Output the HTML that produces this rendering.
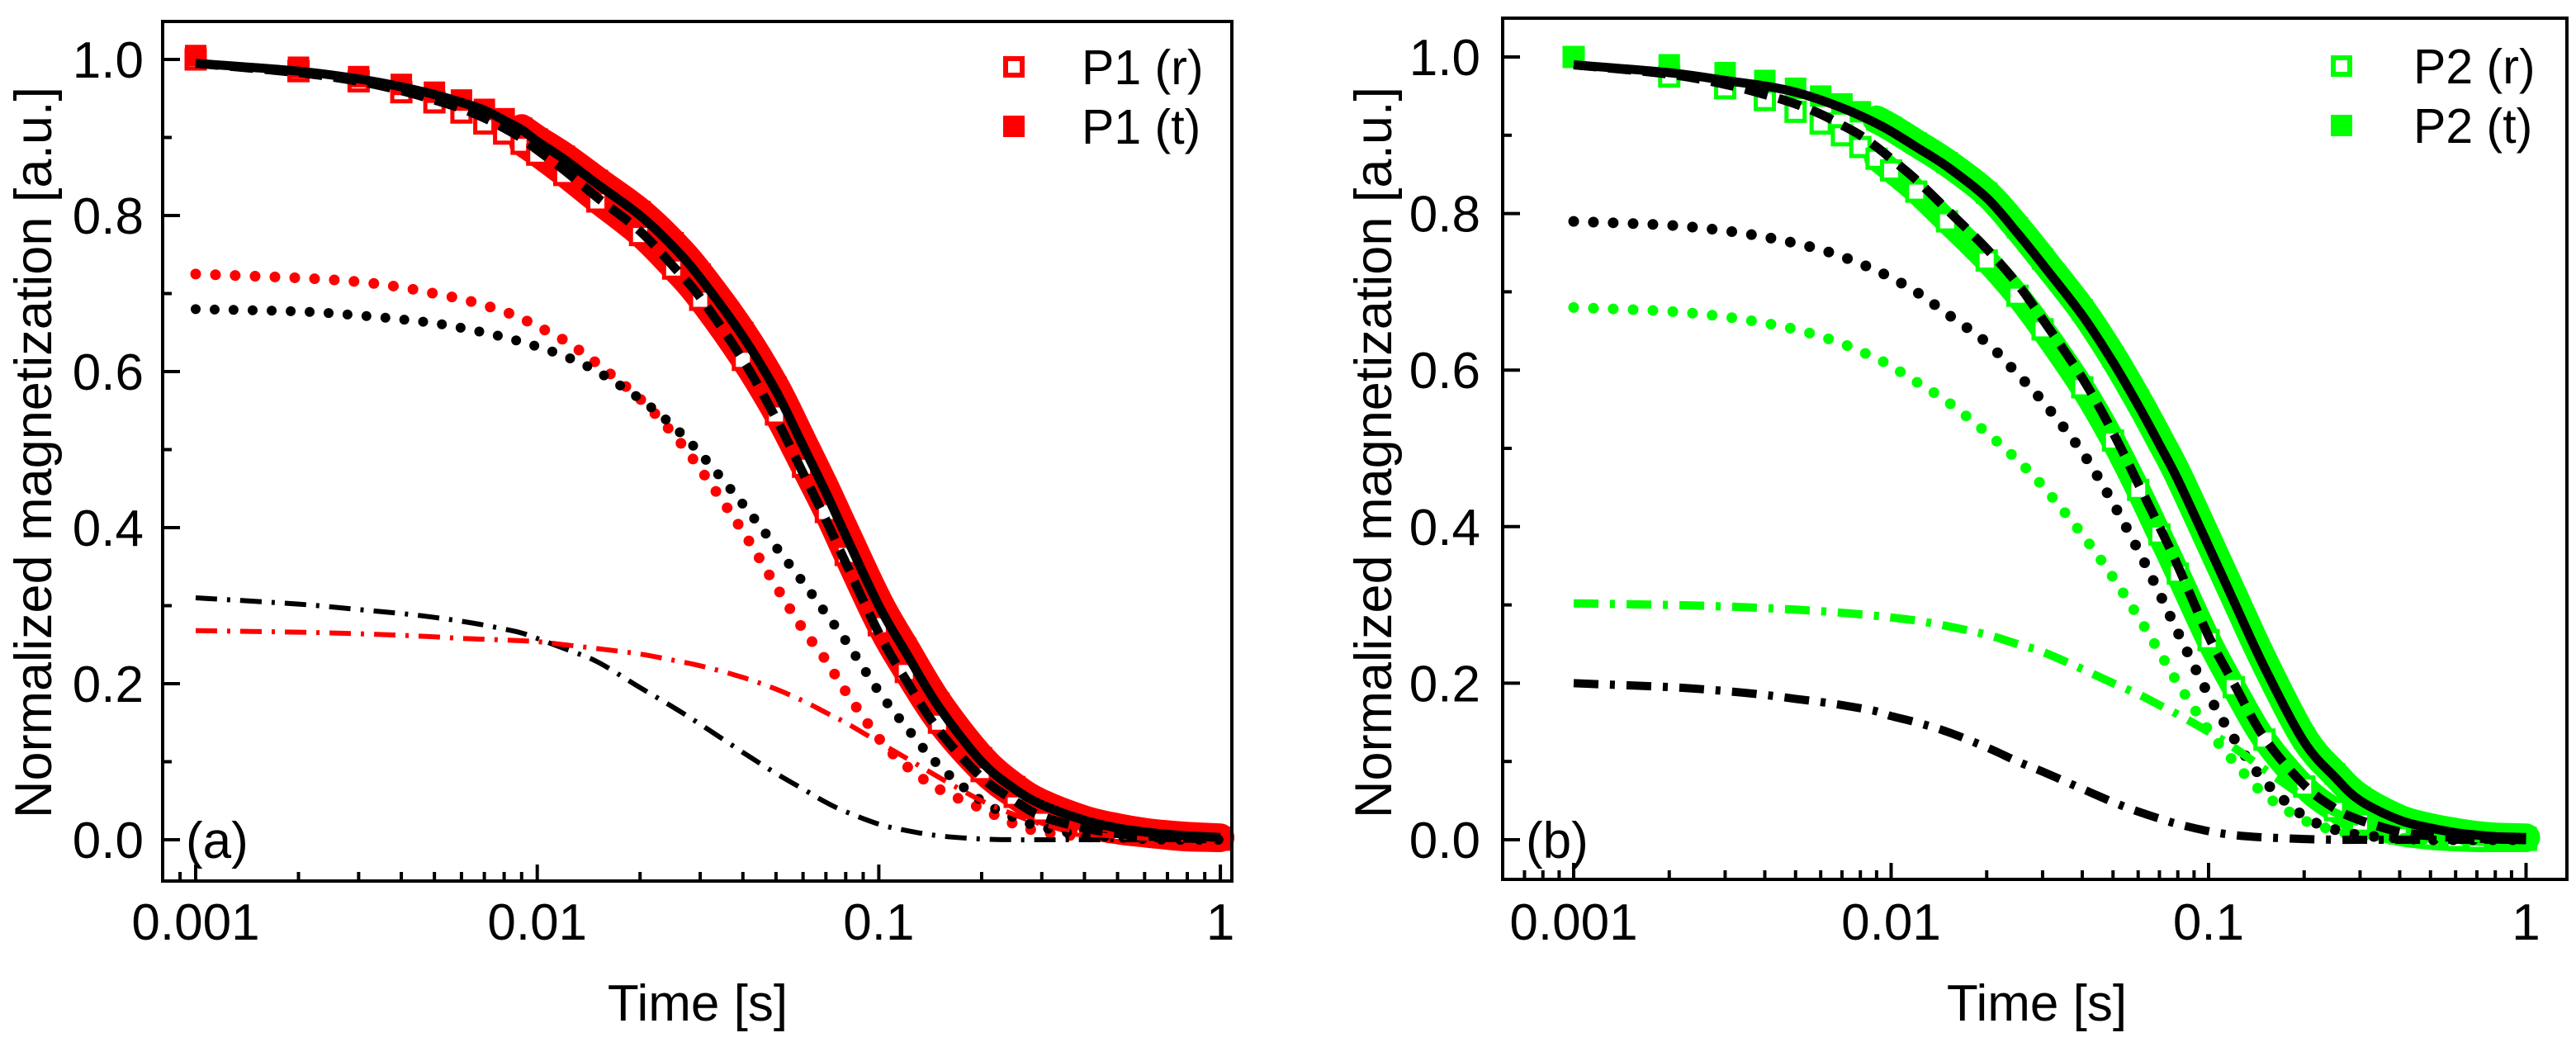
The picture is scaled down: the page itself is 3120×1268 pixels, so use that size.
<!DOCTYPE html>
<html><head><meta charset="utf-8">
<style>
html,body{margin:0;padding:0;background:#fff;}
svg{display:block;font-family:"Liberation Sans",Arial,sans-serif;}
</style></head>
<body>
<svg id="chart" width="3120" height="1268" viewBox="0 0 3120 1268" xmlns="http://www.w3.org/2000/svg"></svg>
<script>
// ---------- shared data ----------
const xTicks = [0.001, 0.01, 0.1, 1];
const xTickLabels = ["0.001", "0.01", "0.1", "1"];
const yTicks = [0.0, 0.2, 0.4, 0.6, 0.8, 1.0];
const yTickLabels = ["0.0", "0.2", "0.4", "0.6", "0.8", "1.0"];
const times = [0.001,0.002,0.003,0.004,0.005,0.006,0.007,0.008,0.009,0.01,0.012,0.015,0.02,0.025,0.03,0.04,0.05,0.06,0.07,0.08,0.1,0.12,0.15,0.2,0.25,0.3,0.4,0.5,0.6,0.7,0.8,1.0];

// ---------- panel (a) ----------
const aTotalFit  = [0.995,0.985,0.975,0.965,0.955,0.945,0.935,0.922,0.91,0.895,0.872,0.84,0.80,0.76,0.72,0.645,0.575,0.505,0.445,0.39,0.30,0.24,0.17,0.10,0.065,0.045,0.025,0.015,0.01,0.007,0.005,0.003];
const aDashFit   = [0.995,0.983,0.972,0.96,0.948,0.937,0.925,0.912,0.899,0.884,0.858,0.823,0.78,0.735,0.695,0.615,0.54,0.47,0.41,0.355,0.265,0.205,0.14,0.08,0.05,0.03,0.015,0.008,0.005,0.003,0.002,0.001];
const aDataR     = [1.00,0.985,0.972,0.958,0.945,0.932,0.918,0.905,0.892,0.878,0.852,0.818,0.775,0.732,0.692,0.615,0.545,0.478,0.42,0.365,0.275,0.215,0.15,0.088,0.055,0.035,0.018,0.01,0.006,0.003,0.001,0.0];
const aDataT     = [1.005,0.99,0.978,0.968,0.958,0.948,0.936,0.924,0.912,0.898,0.876,0.845,0.805,0.765,0.725,0.65,0.58,0.51,0.45,0.395,0.305,0.245,0.175,0.105,0.068,0.047,0.026,0.016,0.01,0.007,0.005,0.003];
const aRedDot    = [0.725,0.72,0.715,0.708,0.70,0.693,0.685,0.677,0.668,0.658,0.64,0.61,0.565,0.52,0.475,0.395,0.325,0.27,0.23,0.19,0.13,0.095,0.065,0.04,0.02,0.01,0.004,0.002,0.001,0.0,0.0,0.0];
const aBlackDot  = [0.68,0.677,0.672,0.667,0.662,0.656,0.65,0.644,0.638,0.632,0.62,0.60,0.565,0.53,0.495,0.43,0.375,0.33,0.29,0.255,0.19,0.145,0.095,0.05,0.028,0.016,0.006,0.003,0.001,0.0,0.0,0.0];
const aBlackDD   = [0.31,0.302,0.295,0.29,0.285,0.28,0.275,0.27,0.265,0.258,0.245,0.228,0.195,0.17,0.148,0.112,0.085,0.065,0.048,0.036,0.02,0.012,0.005,0.001,0.0,0.0,0.0,0.0,0.0,0.0,0.0,0.0];
const aRedDD     = [0.268,0.266,0.264,0.262,0.26,0.258,0.257,0.256,0.255,0.254,0.25,0.245,0.238,0.23,0.223,0.208,0.193,0.178,0.163,0.15,0.125,0.105,0.08,0.05,0.032,0.02,0.009,0.004,0.002,0.001,0.0,0.0];

// ---------- panel (b) ----------
const bTotalFit  = [0.99,0.98,0.97,0.963,0.955,0.945,0.935,0.925,0.915,0.905,0.885,0.86,0.82,0.775,0.735,0.67,0.61,0.555,0.505,0.46,0.375,0.305,0.22,0.125,0.08,0.05,0.025,0.015,0.009,0.006,0.004,0.003];
const bDashFit   = [0.99,0.978,0.965,0.952,0.94,0.927,0.913,0.9,0.885,0.87,0.843,0.805,0.755,0.71,0.665,0.59,0.52,0.455,0.40,0.35,0.26,0.2,0.13,0.07,0.04,0.025,0.01,0.005,0.003,0.002,0.001,0.0];
const bDataR     = [1.00,0.975,0.96,0.945,0.93,0.915,0.9,0.885,0.87,0.855,0.828,0.79,0.74,0.695,0.652,0.578,0.51,0.447,0.39,0.34,0.255,0.195,0.128,0.068,0.038,0.022,0.008,0.003,0.001,0.0,0.0,0.0];
const bDataT     = [1.00,0.99,0.98,0.97,0.96,0.95,0.94,0.93,0.92,0.91,0.89,0.865,0.826,0.782,0.742,0.677,0.617,0.562,0.512,0.467,0.382,0.312,0.227,0.13,0.084,0.054,0.027,0.016,0.01,0.006,0.004,0.003];
const bBlackDot  = [0.79,0.785,0.778,0.77,0.762,0.754,0.745,0.736,0.727,0.718,0.70,0.672,0.635,0.595,0.56,0.495,0.43,0.37,0.315,0.265,0.185,0.13,0.075,0.03,0.013,0.006,0.002,0.0,0.0,0.0,0.0,0.0];
const bGreenDot  = [0.68,0.675,0.668,0.66,0.652,0.643,0.634,0.624,0.615,0.605,0.585,0.56,0.52,0.485,0.452,0.39,0.335,0.285,0.24,0.2,0.14,0.1,0.058,0.025,0.012,0.005,0.002,0.0,0.0,0.0,0.0,0.0];
const bGreenDD   = [0.302,0.3,0.298,0.296,0.294,0.292,0.29,0.288,0.286,0.284,0.28,0.273,0.262,0.25,0.24,0.218,0.2,0.186,0.172,0.16,0.138,0.118,0.09,0.055,0.035,0.022,0.01,0.005,0.003,0.002,0.001,0.0];
const bBlackDD   = [0.20,0.195,0.19,0.185,0.18,0.176,0.172,0.168,0.164,0.158,0.15,0.138,0.118,0.1,0.087,0.065,0.048,0.036,0.027,0.02,0.011,0.006,0.003,0.001,0.0,0.0,0.0,0.0,0.0,0.0,0.0,0.0];

// ---------- drawing ----------
const NS = "http://www.w3.org/2000/svg";
const svg = document.getElementById("chart");
function el(tag, attrs, parent) {
  const e = document.createElementNS(NS, tag);
  for (const k in attrs) e.setAttribute(k, attrs[k]);
  (parent || svg).appendChild(e);
  return e;
}
function makePanel(p) {
  const xs = t => p.x0 + (Math.log10(t) + 3) * p.dec;
  const ys = v => p.yZero - v * p.yUnit;
  const g = el("g", {});
  
  
  return {xs, ys, g};
}
function smoothPath(xs, ys, vals, from) {
  const pts = [];
  for (let i = 0; i < times.length; i++) if (times[i] >= (from || 0)) pts.push([xs(times[i]), ys(vals[i])]);
  let d = "M" + pts[0][0].toFixed(1) + "," + pts[0][1].toFixed(1);
  for (let i = 0; i < pts.length - 1; i++) {
    const p0 = pts[Math.max(0, i - 1)], p1 = pts[i], p2 = pts[i + 1], p3 = pts[Math.min(pts.length - 1, i + 2)];
    const c1x = p1[0] + (p2[0] - p0[0]) / 6, c1y = p1[1] + (p2[1] - p0[1]) / 6;
    const c2x = p2[0] - (p3[0] - p1[0]) / 6, c2y = p2[1] - (p3[1] - p1[1]) / 6;
    d += " C" + c1x.toFixed(1) + "," + c1y.toFixed(1) + " " + c2x.toFixed(1) + "," + c2y.toFixed(1) + " " + p2[0].toFixed(1) + "," + p2[1].toFixed(1);
  }
  return d;
}
function drawPanel(p) {
  const {xs, ys, g} = makePanel(p);
  const col = p.color;
  // dense data band
  const band = el("path", {d: smoothPath(xs, ys, p.dataT, 0.009), fill: "none", stroke: col, "stroke-width": 34, "stroke-linecap": "round"}, g);
  
  
  const band2 = el("path", {d: smoothPath(xs, ys, p.dataR, 0.009), fill: "none", stroke: col, "stroke-width": 30, "stroke-linecap": "round"}, g);
  
  
  // markers
  for (let i = 0; i < times.length; i++) {
    const r = el("rect", {x: xs(times[i]) - 11, y: ys(p.dataR[i]) - 11, width: 22, height: 22, fill: "#fff", stroke: col, "stroke-width": 5}, g);
    
    
    const t = el("rect", {x: xs(times[i]) - 13, y: ys(p.dataT[i]) - 13, width: 26, height: 26, fill: col}, g);
    
    
  }
  // component curves
  for (const c of p.curves) {
    const path = el("path", {d: smoothPath(xs, ys, c.vals), fill: "none", stroke: c.color, "stroke-width": c.w, "stroke-dasharray": c.dash, "stroke-linecap": c.cap || "butt"}, g);
    
    
  }
  // frame
  const fr = el("rect", {x: p.fx0, y: p.fy0, width: p.fx1 - p.fx0, height: p.fy1 - p.fy0, fill: "none", stroke: "#000", "stroke-width": 4}, g);
  
  
  // x ticks
  for (let e = -4; e <= 0; e++) {
    for (let m = 1; m <= 9; m++) {
      const t = m * Math.pow(10, e);
      const x = xs(t);
      if (x <= p.fx0 + 2 || x >= p.fx1 - 2) continue;
      const len = m === 1 ? 20 : 11;
      const tk = el("line", {x1: x, x2: x, y1: p.fy1, y2: p.fy1 - len, stroke: "#000", "stroke-width": 4}, g);
      
      
    }
  }
  xTicks.forEach((t, i) => {
    const tx = el("text", {x: xs(t), y: 1138, "font-size": 62, "text-anchor": "middle", fill: "#000"}, g);
    tx.textContent = xTickLabels[i];
    
    
  });
  // y ticks
  for (let k = -0; k <= 10; k++) {
    const v = k / 10;
    const y = ys(v);
    const len = k % 2 === 0 ? 21 : 11;
    const tk = el("line", {x1: p.fx0, x2: p.fx0 + len, y1: y, y2: y, stroke: "#000", "stroke-width": 4}, g);
    
    
  }
  yTicks.forEach((v, i) => {
    const ty = el("text", {x: p.ylabX, y: ys(v) + 22, "font-size": 62, "text-anchor": "end", fill: "#000"}, g);
    ty.textContent = yTickLabels[i];
    
    
  });
  // titles
  const xt = el("text", {x: p.xTitleX, y: 1236, "font-size": 62, "text-anchor": "middle", fill: "#000"}, g);
  xt.textContent = "Time [s]";
  
  
  const yt = el("text", {x: 0, y: 0, "font-size": 63, "text-anchor": "middle", fill: "#000", transform: "translate(" + p.yTitleX + ",548) rotate(-90)"}, g);
  yt.textContent = "Normalized magnetization [a.u.]";
  
  
  const pl = el("text", {x: p.fx0 + 28, y: ys(0) + 22, "font-size": 62, fill: "#000"}, g);
  pl.textContent = p.panelLabel;
  
  
  // legend
  const lg = el("g", {}, g);
  
  
  const lr = el("rect", {x: p.legX - 10, y: p.legY - 10, width: 20, height: 20, fill: "#fff", stroke: col, "stroke-width": 6}, lg);
  
  
  const lt1 = el("text", {x: p.legTextX, y: p.legY + 21, "font-size": 59, fill: "#000"}, lg);
  lt1.textContent = p.series + " (r)";
  
  
  const lt = el("rect", {x: p.legX - 13, y: p.legY + 72 - 13, width: 26, height: 26, fill: col}, lg);
  
  
  const lt2 = el("text", {x: p.legTextX, y: p.legY + 72 + 21, "font-size": 59, fill: "#000"}, lg);
  lt2.textContent = p.series + " (t)";
  
  
}

drawPanel({
  name: "panel-a", tag: "p1", color: "#ff0000", series: "P1", panelLabel: "(a)",
  x0: 237, dec: 413.7, yZero: 1017, yUnit: 945,
  fx0: 197, fx1: 1492, fy0: 26, fy1: 1067, ylabX: 174, xTitleX: 845, yTitleX: 62,
  legX: 1228, legY: 81, legTextX: 1310,
  dataR: aDataR, dataT: aDataT,
  curves: [
    {name: "p1-red-dotted-fit", vals: aRedDot, color: "#ff0000", w: 13, dash: "0 24", cap: "round"},
    {name: "p1-black-dotted-fit", vals: aBlackDot, color: "#000", w: 12, dash: "0 23", cap: "round"},
    {name: "p1-black-dashdot-fit", vals: aBlackDD, color: "#000", w: 6, dash: "26 12 4 12"},
    {name: "p1-red-dashdot-fit", vals: aRedDD, color: "#ff0000", w: 6, dash: "26 12 4 12"},
    {name: "p1-black-dashed-fit", vals: aDashFit, color: "#000", w: 11, dash: "28 14"},
    {name: "p1-black-solid-fit", vals: aTotalFit, color: "#000", w: 11, dash: "none"}
  ]
});
drawPanel({
  name: "panel-b", tag: "p2", color: "#00ff00", series: "P2", panelLabel: "(b)",
  x0: 1906, dec: 384.5, yZero: 1017, yUnit: 948,
  fx0: 1820, fx1: 3109, fy0: 22, fy1: 1065, ylabX: 1793, xTitleX: 2467, yTitleX: 1685,
  legX: 2836, legY: 80, legTextX: 2923,
  dataR: bDataR, dataT: bDataT,
  curves: [
    {name: "p2-black-dotted-fit", vals: bBlackDot, color: "#000", w: 13, dash: "0 24", cap: "round"},
    {name: "p2-green-dotted-fit", vals: bGreenDot, color: "#00ff00", w: 13, dash: "0 24", cap: "round"},
    {name: "p2-green-dashdot-fit", vals: bGreenDD, color: "#00ff00", w: 10, dash: "30 14 6 14"},
    {name: "p2-black-dashdot-fit", vals: bBlackDD, color: "#000", w: 10, dash: "30 14 6 14"},
    {name: "p2-black-dashed-fit", vals: bDashFit, color: "#000", w: 11, dash: "28 14"},
    {name: "p2-black-solid-fit", vals: bTotalFit, color: "#000", w: 11, dash: "none"}
  ]
});
</script>
</body></html>
